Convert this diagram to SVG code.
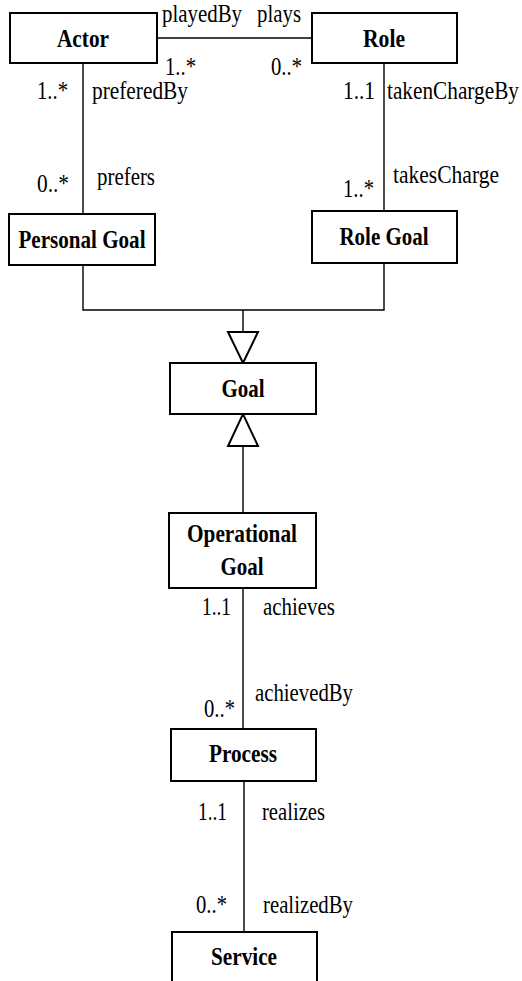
<svg xmlns="http://www.w3.org/2000/svg" width="522" height="981" viewBox="0 0 522 981">
<style>
.box{fill:#fff;stroke:#000;stroke-width:2}
.name{font-family:"Liberation Serif",serif;font-weight:bold;font-size:25px;text-anchor:middle}
.lbl{font-family:"Liberation Serif",serif;font-size:26px}
.line{fill:none;stroke:#000;stroke-width:1.4}
.tri{fill:#fff;stroke:#000;stroke-width:2}
</style>
<rect width="522" height="981" fill="#fff"/>
<g id="connectors">
<line class="line" x1="157" y1="38" x2="312" y2="38"/>
<line class="line" x1="83" y1="63" x2="83" y2="214"/>
<line class="line" x1="384" y1="63" x2="384" y2="211"/>
<polyline class="line" points="83,265 83,310 384,310 384,263"/>
<line class="line" x1="243" y1="310" x2="243" y2="332"/>
<polygon class="tri" points="228,332 258,332 243,363"/>
<line class="line" x1="243" y1="446" x2="243" y2="513"/>
<polygon class="tri" points="228,446 258,446 243,414"/>
<line class="line" x1="243" y1="588" x2="243" y2="729"/>
<line class="line" x1="244" y1="781" x2="244" y2="932"/>
<text class="lbl" x="162" y="22" textLength="80" lengthAdjust="spacingAndGlyphs">playedBy</text>
<text class="lbl" x="257" y="22" textLength="44" lengthAdjust="spacingAndGlyphs">plays</text>
<text class="lbl" x="165" y="75" textLength="31" lengthAdjust="spacingAndGlyphs">1..*</text>
<text class="lbl" x="271" y="75" textLength="31" lengthAdjust="spacingAndGlyphs">0..*</text>
<text class="lbl" x="37" y="99" textLength="31" lengthAdjust="spacingAndGlyphs">1..*</text>
<text class="lbl" x="92" y="99" textLength="96" lengthAdjust="spacingAndGlyphs">preferedBy</text>
<text class="lbl" x="343" y="99" textLength="32" lengthAdjust="spacingAndGlyphs">1..1</text>
<text class="lbl" x="387" y="99" textLength="132" lengthAdjust="spacingAndGlyphs">takenChargeBy</text>
<text class="lbl" x="37" y="192" textLength="32" lengthAdjust="spacingAndGlyphs">0..*</text>
<text class="lbl" x="97" y="185" textLength="58" lengthAdjust="spacingAndGlyphs">prefers</text>
<text class="lbl" x="343" y="197" textLength="31" lengthAdjust="spacingAndGlyphs">1..*</text>
<text class="lbl" x="393" y="183" textLength="106" lengthAdjust="spacingAndGlyphs">takesCharge</text>
<text class="lbl" x="202" y="615" textLength="29" lengthAdjust="spacingAndGlyphs">1..1</text>
<text class="lbl" x="263" y="615" textLength="72" lengthAdjust="spacingAndGlyphs">achieves</text>
<text class="lbl" x="255" y="701" textLength="98" lengthAdjust="spacingAndGlyphs">achievedBy</text>
<text class="lbl" x="204" y="717" textLength="31" lengthAdjust="spacingAndGlyphs">0..*</text>
<text class="lbl" x="198" y="820" textLength="29" lengthAdjust="spacingAndGlyphs">1..1</text>
<text class="lbl" x="262" y="820" textLength="63" lengthAdjust="spacingAndGlyphs">realizes</text>
<text class="lbl" x="196" y="913" textLength="31" lengthAdjust="spacingAndGlyphs">0..*</text>
<text class="lbl" x="263" y="913" textLength="90" lengthAdjust="spacingAndGlyphs">realizedBy</text>
</g>
<g id="actor"><rect class="box" x="10" y="13" width="147" height="50"/><text class="name" x="83" y="47" textLength="52" lengthAdjust="spacingAndGlyphs">Actor</text></g>
<g id="role"><rect class="box" x="312" y="13" width="145" height="50"/><text class="name" x="384" y="47" textLength="42" lengthAdjust="spacingAndGlyphs">Role</text></g>
<g id="personal-goal"><rect class="box" x="9" y="214" width="146" height="51"/><text class="name" x="82" y="248" textLength="127" lengthAdjust="spacingAndGlyphs">Personal Goal</text></g>
<g id="role-goal"><rect class="box" x="312" y="211" width="145" height="52"/><text class="name" x="384" y="245" textLength="89" lengthAdjust="spacingAndGlyphs">Role Goal</text></g>
<g id="goal"><rect class="box" x="170" y="363" width="146" height="51"/><text class="name" x="243" y="397" textLength="43" lengthAdjust="spacingAndGlyphs">Goal</text></g>
<g id="operational-goal"><rect class="box" x="169" y="513" width="147" height="75"/><text class="name" x="242" y="542" textLength="110" lengthAdjust="spacingAndGlyphs">Operational</text><text class="name" x="242" y="575" textLength="43" lengthAdjust="spacingAndGlyphs">Goal</text></g>
<g id="process"><rect class="box" x="171" y="729" width="145" height="52"/><text class="name" x="243" y="762" textLength="68" lengthAdjust="spacingAndGlyphs">Process</text></g>
<g id="service"><rect class="box" x="172" y="932" width="145" height="60"/><text class="name" x="244" y="965" textLength="66" lengthAdjust="spacingAndGlyphs">Service</text></g>
</svg>
